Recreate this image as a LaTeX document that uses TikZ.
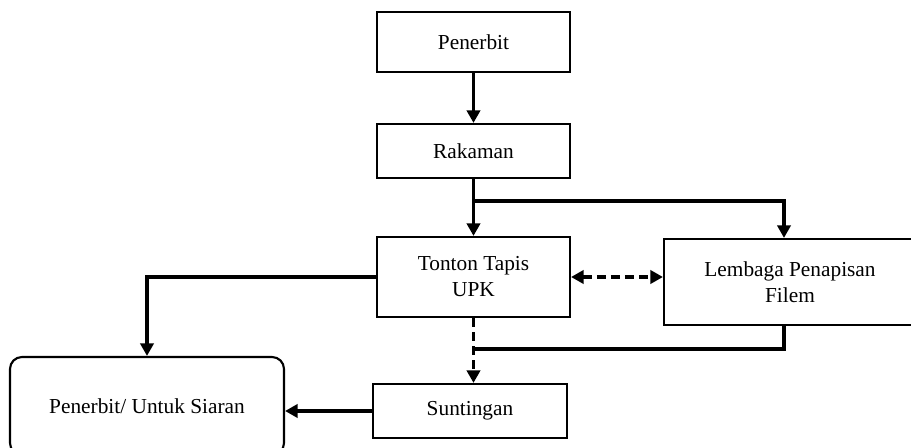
\documentclass[tikz,border=0pt]{standalone}
\usepackage{fontspec}
\setmainfont{Liberation Serif}
\usetikzlibrary{arrows.meta}
\begin{document}
\begin{tikzpicture}[x=0.75pt,y=-0.75pt]
\tikzstyle{every node}+=[inner sep=0pt, font=\fontsize{16}{19.5}\selectfont]
\tikzstyle{kotak}=[draw=black, line width=1.6pt, align=center]
\tikzstyle{panah}=[black, line width=2.5pt, -{Triangle[length=9.5pt,width=10pt]}]
\tikzstyle{garis}=[black, line width=2.3pt]
\tikzstyle{putus}=[dash pattern=on 6.5pt off 4pt]
\useasboundingbox (0,0) rectangle (911,448);
\node [kotak, minimum width=144.75pt, minimum height=45pt] (penerbit) at (473.5,42) {Penerbit};
\node [kotak, minimum width=144.75pt, minimum height=40.5pt] (rakaman) at (473.5,151) {Rakaman};
\node [kotak, minimum width=144.75pt, minimum height=60pt] (tonton) at (473.5,277) {Tonton Tapis\\UPK};
\node [kotak, minimum width=145.5pt, minimum height=40.5pt] (suntingan) at (470,411) {Suntingan};
\node [kotak, minimum width=189pt, minimum height=64.5pt] (lembaga) at (790,282) {Lembaga Penapisan\\Filem};
\node [kotak, rounded corners=9pt, minimum width=205.5pt, minimum height=73.5pt] (siaran) at (147,406) {Penerbit/ Untuk Siaran};
\coordinate (cabang) at (473.5,201);
\coordinate (gabung) at (473.5,349);
\coordinate (lembagaatas) at ([xshift=-4.5pt]lembaga.north);
\coordinate (lembagabawah) at ([xshift=-4.5pt]lembaga.south);
\draw [panah] (penerbit.south) -- (rakaman.north);
\draw [panah] (rakaman.south) -- (tonton.north);
\draw [garis, -{Triangle[length=9.5pt,width=10pt]}] (cabang) -| (lembagaatas);
\draw [panah] (tonton.west) -| (siaran.north);
\draw [panah, putus, {Triangle[length=9.5pt,width=10pt]}-{Triangle[length=9.5pt,width=10pt]}] (tonton.east) -- (tonton.east -| lembaga.west);
\draw [panah, putus] (tonton.south) -- (tonton.south |- suntingan.north);
\draw [garis] (lembagabawah) |- (gabung);
\draw [panah] (suntingan.west) -- (suntingan.west -| siaran.east);
\end{tikzpicture}
\end{document}
